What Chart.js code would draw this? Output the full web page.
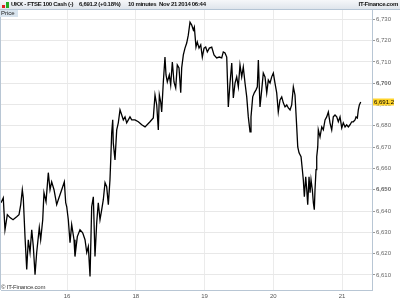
<!DOCTYPE html>
<html>
<head>
<meta charset="utf-8">
<script src="https://cdn.jsdelivr.net/npm/chart.js@4/dist/chart.umd.min.js"></script>
<style>
    body { margin: 0; background: #fff; }
    #wrap { position: relative; width: 400px; height: 300px; overflow: hidden; font-family: "Liberation Sans", Arial, sans-serif; }
    #header {
        position: absolute; left: 0; top: 0; width: 400px; height: 9px;
        background: linear-gradient(#f6f7f9, #dfe5ec);
        border-bottom: 1px solid #b4c4d4;
        font-size: 6px; font-weight: bold; color: #111; line-height: 9px; letter-spacing: -0.3px;
    }
    #header span { position: absolute; top: 0; white-space: pre; }
    #icon { position: absolute; left: 2px; top: 2px; width: 7px; height: 6px; }
    #icon i { position: absolute; bottom: 0; width: 3px; }
    #price-tag {
        position: absolute; left: 0; top: 10px; height: 7px; padding: 0 3px 0 1px;
        background: #d8e4ee; font-size: 6px; line-height: 7px; color: #222;
    }
    #copy { position: absolute; left: 1px; top: 284px; font-size: 6px; color: #333; letter-spacing: -0.2px; }
</style>
</head>
<body>
<div id="wrap">
    <canvas id="chart" width="400" height="300"></canvas>
    <div id="header">
        <div id="icon"><i style="left:0;height:3px;background:#d22"></i><i style="left:4px;height:6px;background:#2a2"></i></div>
        <span style="left:11px">UKX - FTSE 100 Cash (-)</span>
        <span style="left:79px">6,691.2 (+0.18%)</span>
        <span style="left:128px">10 minutes  Nov 21 2014 06:44</span>
        <span style="right:2px">IT-Finance.com</span>
    </div>
    <div id="price-tag">Price</div>
    <div id="copy">© IT-Finance.com</div>
</div>
<script>
document.addEventListener("DOMContentLoaded", () => {
    // session position (0 = day labelled "16", 1 = "18", ...) and price
    const dayLabels = ['16', '18', '19', '20', '21'];
    const priceTicks = [6610, 6620, 6630, 6640, 6650, 6660, 6670, 6680, 6690, 6700, 6710, 6720, 6730];
    const lastPrice = 6691.2;

    const sessionPos = [-0.960,-0.927,-0.902,-0.868,-0.829,-0.785,-0.732,-0.698,-0.673,-0.650,-0.636,-0.611,-0.586,-0.563,-0.538,-0.513,-0.490,-0.465,-0.441,-0.403,-0.383,-0.353,-0.335,-0.305,-0.272,-0.247,-0.223,-0.189,-0.150,-0.127,-0.077,-0.039,-0.019,-0.004,
        0.019,0.044,0.068,0.102,0.116,0.150,0.189,0.228,0.262,0.287,0.310,0.335,0.359,0.383,0.407,0.432,0.455,0.480,0.505,0.528,0.553,0.577,0.601,0.625,0.636,0.650,0.665,0.673,0.698,0.723,0.746,0.771,0.796,0.819,0.844,0.868,0.892,0.916,0.941,0.989,
        1.037,1.087,1.135,1.207,1.255,1.280,1.305,1.328,1.343,1.363,1.377,1.401,1.425,1.440,1.459,1.488,1.508,1.532,1.556,1.581,1.604,1.629,1.654,1.668,1.692,1.716,1.741,1.764,1.789,1.814,1.837,1.852,1.876,1.895,1.920,1.945,1.968,1.993,
        2.017,2.041,2.070,2.105,2.138,2.177,2.215,2.250,2.273,2.298,2.323,2.346,2.371,2.396,2.419,2.444,2.468,2.492,2.516,2.541,2.564,2.589,2.614,2.637,2.662,2.676,2.701,2.724,2.749,2.768,2.783,2.807,2.832,2.855,2.880,2.905,2.928,2.953,2.977,
        3.001,3.025,3.050,3.073,3.098,3.123,3.146,3.171,3.196,3.219,3.244,3.268,3.292,3.316,3.341,3.356,3.375,3.404,3.423,3.437,3.452,3.472,3.487,3.501,3.520,3.535,3.549,3.568,3.583,3.597,3.607,3.622,3.632,3.647,3.655,3.680,3.705,3.728,3.753,3.777,3.801,3.825,3.850,3.873,3.898,3.923,3.946,3.971,3.996,
        4.019,4.044,4.068,4.092,4.116,4.141,4.164,4.189,4.204,4.223,4.237,4.252,4.272];

    const prices = [6643.9,6646.2,6631.2,6638.3,6636.9,6635.9,6637.3,6638.3,6643.0,6650.0,6646.2,6628.0,6612.5,6626.5,6620.5,6631.2,6623.3,6610.1,6620.5,6632.2,6626.5,6635.9,6648.6,6644.4,6658.0,6650.0,6653.7,6650.0,6643.0,6645.3,6650.0,6653.7,6643.9,6642.0,
        6635.9,6625.1,6633.6,6626.5,6618.6,6628.0,6631.2,6629.8,6626.5,6620.5,6623.3,6609.2,6642.0,6646.7,6618.6,6634.5,6643.9,6635.9,6640.6,6645.3,6653.3,6651.4,6643.0,6654.7,6664.0,6676.7,6682.8,6672.0,6664.0,6678.1,6681.4,6687.5,6685.1,6682.8,6684.2,6681.4,6682.8,6684.2,6682.8,6682.8,
        6681.9,6680.5,6679.5,6681.9,6683.7,6694.5,6689.8,6678.1,6694.5,6691.2,6686.5,6700.6,6712.3,6703.9,6700.6,6703.9,6699.2,6710.0,6700.6,6697.8,6708.6,6707.2,6695.5,6707.2,6713.3,6716.5,6718.9,6722.6,6728.7,6727.3,6725.0,6726.4,6717.0,6719.4,6716.5,6718.0,6712.3,6716.5,
        6717.0,6714.7,6716.5,6717.0,6713.3,6711.9,6712.3,6711.9,6714.7,6714.2,6712.3,6688.9,6700.1,6709.5,6693.1,6700.1,6703.0,6698.3,6708.6,6703.0,6707.6,6700.1,6693.6,6684.2,6677.2,6684.2,6693.6,6695.5,6696.9,6698.3,6710.9,6688.9,6696.9,6704.8,6703.0,6695.5,6701.5,6700.1,6703.0,
        6704.8,6700.1,6695.5,6686.5,6692.2,6693.6,6690.8,6688.9,6689.8,6688.4,6687.5,6689.8,6698.3,6694.5,6679.5,6670.1,6667.3,6665.5,6659.4,6654.7,6646.7,6656.1,6650.0,6643.0,6656.1,6648.6,6654.7,6650.0,6643.9,6640.6,6650.0,6659.4,6665.5,6670.1,6678.1,6674.8,6679.5,6678.1,6682.8,6684.2,6686.5,6681.4,6678.1,6684.2,6685.1,6684.2,6681.9,6684.2,6679.0,
        6681.4,6679.5,6680.5,6679.5,6680.5,6681.9,6681.9,6682.8,6684.2,6683.7,6687.5,6689.8,6691.2];

    const points = [];
    for (let i = 0; i < Math.min(sessionPos.length, prices.length); i++) {
        points.push({ x: sessionPos[i], y: prices[i] });
    }

    const fmt = v => v.toLocaleString('en-US', { maximumFractionDigits: 1 });

    // left border + yellow last-price box on the axis
    const extras = {
        id: 'extras',
        afterDraw(chart) {
            const ctx = chart.ctx;
            const area = chart.chartArea;
            ctx.save();
            ctx.strokeStyle = '#b8c6d4';
            ctx.lineWidth = 1;
            ctx.beginPath();
            ctx.moveTo(0.5, area.top);
            ctx.lineTo(0.5, area.bottom);
            ctx.stroke();

            const y = chart.scales.y.getPixelForValue(lastPrice);
            ctx.fillStyle = '#ffd42a';
            ctx.fillRect(area.right + 1, Math.round(y) - 3.5, 21, 7);
            ctx.fillStyle = '#000';
            ctx.font = '6px "Liberation Sans", Arial, sans-serif';
            ctx.textBaseline = 'middle';
            ctx.fillText(fmt(lastPrice), area.right + 2, Math.round(y) + 0.5);
            ctx.restore();
        }
    };

    new Chart(document.getElementById('chart'), {
        type: 'line',
        data: {
            datasets: [{
                data: points,
                borderColor: '#000',
                borderWidth: 1.3,
                pointRadius: 0,
                tension: 0
            }]
        },
        options: {
            responsive: false,
            animation: false,
            devicePixelRatio: 1,
            layout: { padding: { left: 1, top: 10, right: 0, bottom: 0 } },
            plugins: { legend: { display: false }, tooltip: { enabled: false } },
            scales: {
                x: {
                    type: 'linear',
                    min: -0.96,
                    max: 4.436,
                    afterBuildTicks: axis => { axis.ticks = dayLabels.map((_, i) => ({ value: i })); },
                    afterFit: axis => { axis.height = 10; },
                    grid: { color: '#ebebeb', drawTicks: false },
                    border: { color: '#b8c6d4' },
                    ticks: {
                        padding: 3,
                        maxRotation: 0,
                        color: '#555',
                        font: { size: 6, family: '"Liberation Sans", Arial, sans-serif' },
                        callback: value => dayLabels[value]
                    }
                },
                y: {
                    position: 'right',
                    min: 6602.9,
                    max: 6734.4,
                    afterBuildTicks: axis => { axis.ticks = priceTicks.map(v => ({ value: v })); },
                    afterFit: axis => { axis.width = 28; },
                    grid: { color: '#e8e8e8', tickLength: 3, tickColor: '#999' },
                    border: { color: '#b8c6d4' },
                    ticks: {
                        padding: 1,
                        color: '#666',
                        font: ctx => ({
                            size: 6,
                            family: '"Liberation Sans", Arial, sans-serif',
                            weight: ctx.tick && ctx.tick.value % 50 === 0 ? 'bold' : 'normal'
                        }),
                        callback: value => fmt(value)
                    }
                }
            }
        },
        plugins: [extras]
    });
});
</script>
</body>
</html>
